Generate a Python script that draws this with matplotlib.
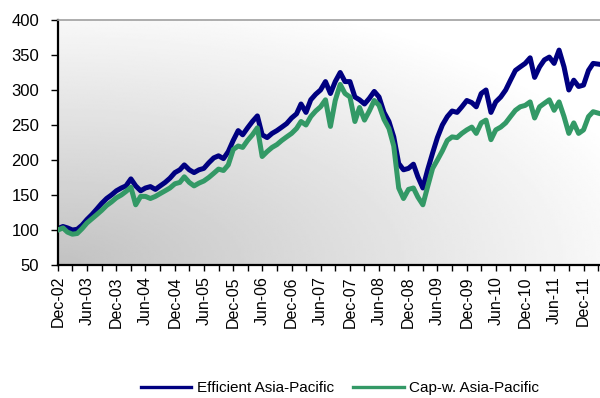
import numpy as np
import pandas as pd
import matplotlib
matplotlib.use('Agg')
import matplotlib.pyplot as plt
import matplotlib.dates as mdates

plt.rcParams['font.family'] = ['Liberation Sans', 'DejaVu Sans']

# month-end dates, Dec-02 .. Mar-12
dates = pd.date_range('2002-12-31', '2012-03-31', freq='ME')

efficient = [
    102,
    105, 103, 100, 101, 107, 115, 122, 130, 138, 145, 150, 156,
    160, 163, 173, 163, 156, 160, 162, 158, 163, 168, 174, 182,
    186, 193, 186, 182, 186, 188, 196, 203, 206, 202, 212, 228,
    242, 236, 246, 255, 263, 236, 232, 238, 242, 247, 252, 260,
    266, 280, 268, 286, 294, 300, 312, 295, 312, 325, 312, 312,
    290, 286, 280, 288, 298, 290, 268, 255, 233, 195, 186, 188,
    194, 176, 160, 186, 210, 232, 250, 262, 270, 268, 276, 285,
    282, 276, 295, 300, 268, 283, 290, 300, 314, 328, 333, 338,
    346, 318, 333, 343, 347, 338, 357, 333, 300, 314, 305, 307,
    328, 338, 337,
]

capw = [
    100,
    103, 97, 94, 95, 102, 110, 116, 122, 128, 135, 140, 146,
    150, 155, 161, 136, 148, 148, 145, 148, 152, 156, 160, 166,
    168, 176, 168, 163, 167, 170, 175, 181, 187, 185, 193, 215,
    220, 218, 228, 236, 246, 205, 212, 218, 222, 228, 233, 238,
    245, 255, 250, 262, 270, 276, 286, 248, 285, 308, 295, 290,
    255, 275, 257, 270, 285, 278, 258, 245, 220, 160, 145, 158,
    160, 147, 136, 162, 188, 200, 213, 228, 233, 232, 238, 243,
    247, 238, 253, 257, 229, 243, 247, 253, 262, 271, 276, 278,
    283, 260, 276, 281, 286, 271, 283, 262, 238, 253, 238, 243,
    262, 269, 267,
]

labels = ['Efficient Asia-Pacific', 'Cap-w. Asia-Pacific']
colors = ['#000080', '#339966']

fig = plt.figure(figsize=(6, 3.98), dpi=100)
ax = fig.add_axes([58 / 600, 1 - 265 / 398, 542 / 600, 245 / 398])

# radial grey gradient from the lower-left corner
gx, gy = np.meshgrid(np.linspace(0, 1, 200), np.linspace(0, 1, 200))
shade = np.clip(0.76 + 0.21 * np.hypot(gx, gy), 0, 1)
ax.imshow(shade, cmap='gray', vmin=0, vmax=1, origin='lower',
          extent=[0, 1, 0, 1], transform=ax.transAxes, aspect='auto',
          zorder=0, interpolation='bilinear')

ax.plot(dates, efficient, color=colors[0], lw=3.6, label=labels[0], zorder=2,
        solid_joinstyle='round')
ax.plot(dates, capw, color=colors[1], lw=3.6, label=labels[1], zorder=3,
        solid_joinstyle='round')

ax.set_xlim(pd.Timestamp('2002-12-31'), pd.Timestamp('2012-04-12'))
ax.set_ylim(50, 400)
ax.set_yticks(range(50, 401, 50))

major = pd.date_range('2002-12-31', '2011-12-31', freq='6ME')
minor = pd.date_range('2002-12-31', '2012-03-31', freq='3ME')
ax.set_xticks(major)
ax.set_xticks(minor, minor=True)
ax.xaxis.set_major_formatter(mdates.DateFormatter('%b-%y'))
plt.setp(ax.get_xticklabels(), rotation=90, ha='center', va='top')

ax.tick_params(axis='y', direction='out', length=5, width=1, pad=8.5,
               labelsize=12, colors='black')
ax.tick_params(axis='x', which='both', direction='out', length=4, width=1,
               pad=4, labelsize=11.5)

ax.spines['left'].set_linewidth(1.6)
ax.spines['bottom'].set_linewidth(1.6)
ax.spines['top'].set_color('#a0a0a0')
ax.spines['top'].set_linewidth(1.2)
ax.spines['right'].set_visible(False)

handles = [plt.Line2D([], [], color=c, lw=2.4) for c in colors]
fig.legend(handles, labels, loc='center', bbox_to_anchor=(340 / 600, 1 - 388 / 398),
           ncol=2, frameon=False, fontsize=11, handlelength=3.3,
           handletextpad=0.35, columnspacing=1.3)

fig.savefig('out.png', dpi=100)
